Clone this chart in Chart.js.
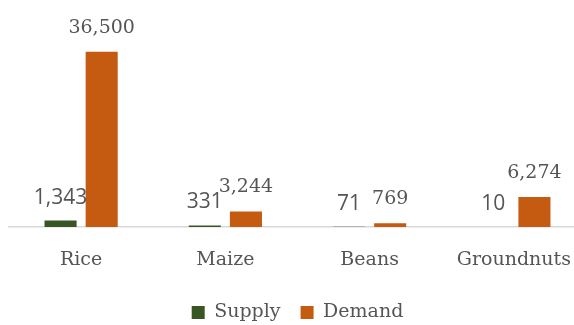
<!DOCTYPE html>
<html>
<head>
<meta charset="utf-8">
<script src="https://cdn.jsdelivr.net/npm/chart.js@4.4.1/dist/chart.umd.min.js"></script>
<style>
  html, body { margin: 0; padding: 0; background: #fff; overflow: hidden; }
  #wrap { width: 604px; height: 325px; }
</style>
</head>
<body>
<div id="wrap"><canvas id="cropChart" width="604" height="325"></canvas></div>
<script>
const crops = ["Rice", "Maize", "Beans", "Groundnuts"];
const supply = [1343, 331, 71, 10];
const demand = [36500, 3244, 769, 6274];

const serif = "'DejaVu Serif', serif";
const sans = "'Open Sans', sans-serif";
const textGray = "#555555";

// draws the value above each bar, supply in sans, demand in serif like the original
const barValues = {
  id: "barValues",
  afterDatasetsDraw(chart) {
    const ctx = chart.ctx;
    chart.data.datasets.forEach((ds, i) => {
      const meta = chart.getDatasetMeta(i);
      ctx.save();
      ctx.font = ds.labelFont;
      ctx.fillStyle = textGray;
      ctx.textAlign = "center";
      ctx.textBaseline = "alphabetic";
      meta.data.forEach((bar, j) => {
        ctx.fillText(ds.data[j].toLocaleString("en-US"), bar.x, bar.y - ds.labelGap);
      });
      ctx.restore();
    });
  },
};

const cropChart = new Chart(document.getElementById("cropChart"), {
  type: "bar",
  data: {
    labels: crops,
    datasets: [
      {
        label: "Supply",
        data: supply,
        backgroundColor: "#375623",
        labelFont: "21px " + sans,
        labelGap: 17,
      },
      {
        label: "Demand",
        data: demand,
        backgroundColor: "#C55A11",
        labelFont: "19px " + serif,
        labelGap: 19,
      },
    ],
  },
  options: {
    responsive: false,
    animation: false,
    devicePixelRatio: 1,
    datasets: {
      bar: { categoryPercentage: 0.57, barPercentage: 0.78 },
    },
    layout: { padding: { top: 35, left: 9, right: 18, bottom: -7 } },
    scales: {
      x: {
        grid: { display: false },
        border: { display: true, color: "#D9D9D9", width: 1.5 },
        ticks: {
          color: textGray,
          font: { family: serif, size: 19 },
          padding: 14,
          maxRotation: 0,
          autoSkip: false,
        },
        afterFit: (scale) => {
          scale.height = 56;
        },
      },
      y: { display: false, min: 0, max: 40000 },
    },
    plugins: {
      legend: {
        position: "bottom",
        labels: {
          boxWidth: 13,
          boxHeight: 13,
          padding: 20,
          color: textGray,
          font: { family: serif, size: 19 },
        },
      },
      tooltip: { enabled: false },
    },
  },
  plugins: [barValues],
});
</script>
</body>
</html>
